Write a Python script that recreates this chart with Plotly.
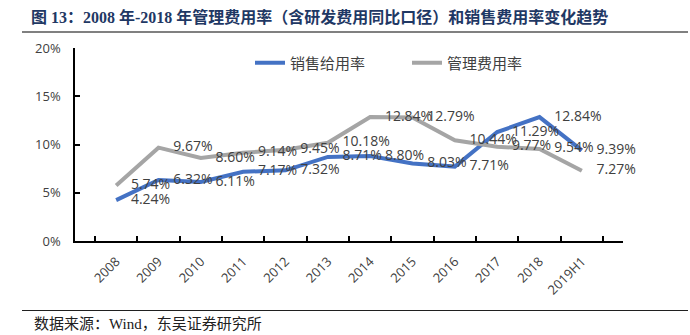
import plotly.graph_objects as go

# ---- data ----
categories = ["2008", "2009", "2010", "2011", "2012", "2013", "2014",
              "2015", "2016", "2017", "2018", "2019H1"]
sales_rate = [0.0424, 0.0632, 0.0611, 0.0717, 0.0732, 0.0871, 0.0880,
              0.0803, 0.0771, 0.1129, 0.1284, 0.0939]
admin_rate = [0.0574, 0.0967, 0.0860, 0.0914, 0.0945, 0.1018, 0.1284,
              0.1279, 0.1044, 0.0977, 0.0954, 0.0727]
series_names = ["销售给用率", "管理费用率"]
y_ticks = [0, 0.05, 0.10, 0.15, 0.20]

title_text = "图 13：2008 年-2018 年管理费用率（含研发费用同比口径）和销售费用率变化趋势"
source_text = "数据来源：Wind，东吴证券研究所"

W, H = 690, 335
ML, MR, MT, MB = 75, 67, 48, 94
PW = W - ML - MR
PH = H - MT - MB

def px_x(px):
    return (px - ML) / PW

def px_y(py):
    return (H - MB - py) / PH

label_font = dict(family="Open Sans, Liberation Sans, sans-serif", size=14, color="#404040")

fig = go.Figure()
for name, vals, color in [(series_names[0], sales_rate, "#4472C4"),
                          (series_names[1], admin_rate, "#A5A5A5")]:
    fig.add_trace(go.Scatter(
        x=categories, y=vals, name=name,
        mode="lines+markers+text",
        line=dict(color=color, width=4),
        marker=dict(size=22, color="rgba(0,0,0,0)"),
        texttemplate="%{y:.2%}",
        textposition="middle right",
        textfont=label_font,
        hoverinfo="skip",
        cliponaxis=False,
    ))

fig.update_layout(
    width=W, height=H,
    margin=dict(l=ML, r=MR, t=MT, b=MB, autoexpand=False),
    paper_bgcolor="white", plot_bgcolor="white",
    showlegend=True,
    legend=dict(
        orientation="h", x=px_x(250), xanchor="left",
        y=px_y(63), yanchor="middle",
        font=dict(family="Noto Sans CJK SC, sans-serif", size=15, color="#404040"),
        bgcolor="rgba(0,0,0,0)", entrywidth=112, entrywidthmode="pixels",
        itemclick=False,
    ),
    title=dict(
        text=title_text, x=31 / W, xanchor="left", xref="container",
        y=1 - 17 / H, yanchor="middle", yref="container",
        font=dict(family="Liberation Serif, Noto Sans CJK SC, serif", size=16,
                  color="#1F3864", weight="bold"),
    ),
    xaxis=dict(
        type="category", showline=True, linecolor="black", linewidth=1.5,
        ticks="inside", ticklen=5, tickcolor="black", tickwidth=1.5,
        tickson="boundaries", tickangle=-45, showgrid=False,
        tickfont=dict(family="Open Sans, Liberation Sans, sans-serif", size=13, color="#404040"),
        ticklabelstandoff=6, fixedrange=True, automargin=False,
    ),
    yaxis=dict(
        range=[0, 0.2], tickvals=y_ticks, tickformat=".0%",
        showline=True, linecolor="black", linewidth=1.5,
        ticks="inside", ticklen=5, tickcolor="black", tickwidth=1.5,
        showgrid=False, zeroline=False,
        tickfont=dict(family="Open Sans, Liberation Sans, sans-serif", size=13, color="#404040"),
        ticklabelstandoff=10, fixedrange=True, automargin=False,
    ),
    shapes=[
        dict(type="line", xref="paper", yref="paper",
             x0=px_x(22), x1=px_x(688), y0=px_y(32), y1=px_y(32),
             line=dict(color="#808080", width=2)),
        dict(type="line", xref="paper", yref="paper",
             x0=px_x(22), x1=px_x(688), y0=px_y(310.5), y1=px_y(310.5),
             line=dict(color="#202020", width=1)),
    ],
    annotations=[
        dict(text=source_text, xref="paper", yref="paper",
             x=px_x(32), xanchor="left", y=px_y(324), yanchor="middle",
             showarrow=False,
             font=dict(family="Liberation Serif, Noto Sans CJK SC, serif", size=15, color="#202020")),
    ],
)

fig.write_html("out.html")
